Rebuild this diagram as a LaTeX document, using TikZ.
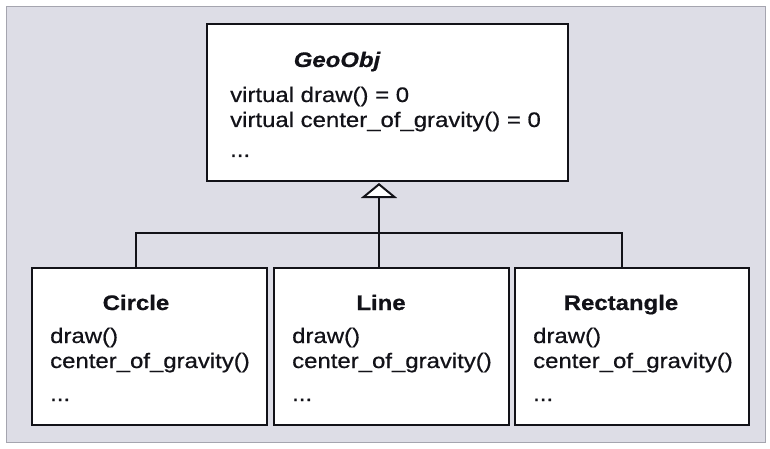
\documentclass[tikz,border=0pt]{standalone}
\usepackage{fontspec}
\setmainfont{Liberation Sans}[FakeStretch=1.14,FakeBold=0.6]
\usetikzlibrary{arrows.meta}
\definecolor{scanbg}{RGB}{221,221,230}
\definecolor{scanedge}{RGB}{165,165,175}
\definecolor{ink}{RGB}{18,18,24}
\tikzset{
  umlbox/.style={draw=ink, line width=2.4pt, fill=white, inner sep=0pt, outer sep=0pt, minimum height=157pt},
  txt/.style={anchor=base west, inner sep=0pt, text=ink, font=\fontsize{21}{25}\selectfont},
  ttl/.style={anchor=base, inner sep=0pt, text=ink, font=\fontsize{21}{25}\selectfont\bfseries},
  link/.style={draw=ink, line width=2pt},
}
\begin{document}
\begin{tikzpicture}[x=1pt,y=-1pt]
\useasboundingbox (0,0) rectangle (770,449);
\fill[white] (0,0) rectangle (770,449);
\draw[scanedge, fill=scanbg, line width=1pt] (6.5,7) rectangle (765,442);

\node[umlbox, minimum width=361pt] (geo) at (387.5,102.5) {};
\node[umlbox, minimum width=235pt] (circ) at (149.5,346.5) {};
\node[umlbox, minimum width=235pt] (line) at (391.5,346.5) {};
\node[umlbox, minimum width=234pt] (rect) at (632,346.5) {};

\node[ttl, font=\fontsize{21}{25}\selectfont\bfseries\itshape] (geot) at (337,67) {GeoObj};
\node[txt] (geo1) at (230,102) {virtual draw() = 0};
\node[txt] (geo2) at (230,127) {virtual center\_of\_gravity() = 0};
\node[txt] (geo3) at (230,157) {...};

\node[ttl] (circt) at (136,310) {Circle};
\node[txt] (circ1) at (50,343) {draw()};
\node[txt] (circ2) at (50,368) {center\_of\_gravity()};
\node[txt] (circ3) at (50,401) {...};

\node[ttl] (linet) at (381,310) {Line};
\node[txt] (line1) at (292,343) {draw()};
\node[txt] (line2) at (292,368) {center\_of\_gravity()};
\node[txt] (line3) at (292,401) {...};

\node[ttl] (rectt) at (621,310) {Rectangle};
\node[txt] (rect1) at (533,343) {draw()};
\node[txt] (rect2) at (533,368) {center\_of\_gravity()};
\node[txt] (rect3) at (533,401) {...};

\coordinate (jc) at (136,232.5);
\coordinate (jl) at (379,232.5);
\coordinate (jr) at (622,232.5);

\draw[link] (jc |- circ.north) -- (jc) -- (jr) -- (jr |- rect.north);
\draw[link] (jl |- line.north) -- (jl);
\draw[link, -{Triangle[width=36pt,length=15pt,fill=white,line join=miter]}] (jl) -- ([yshift=-2pt]jl |- geo.south);
\end{tikzpicture}
\end{document}
